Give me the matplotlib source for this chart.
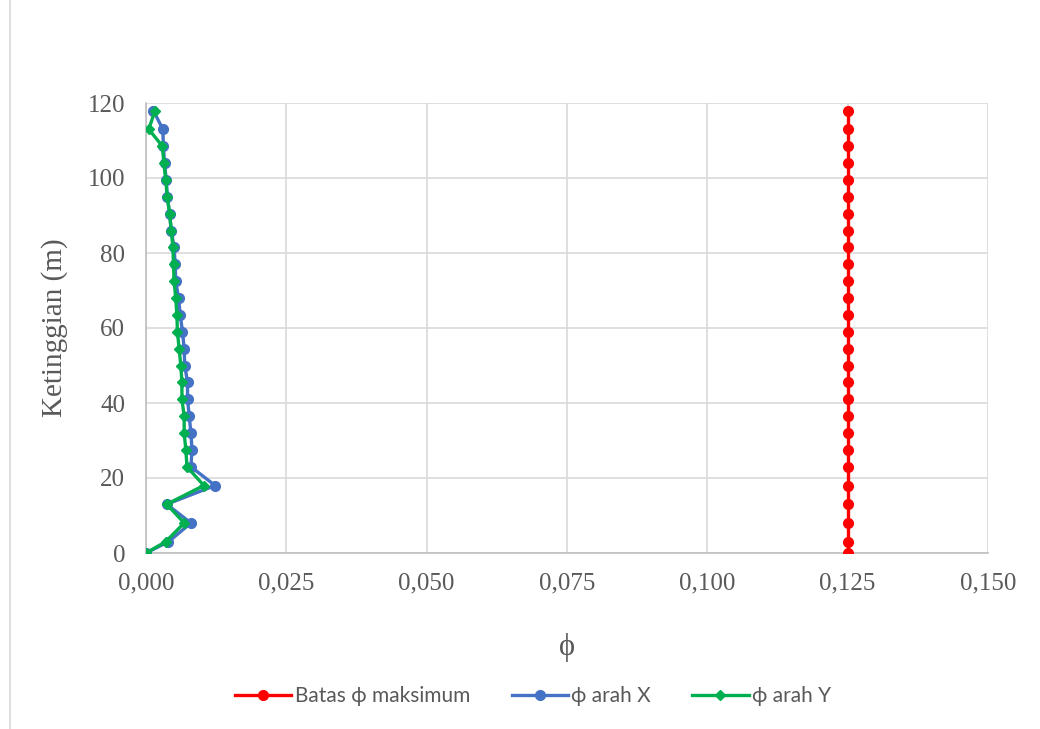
import matplotlib
matplotlib.use("Agg")
import matplotlib.pyplot as plt
from matplotlib.lines import Line2D

# Storey heights (m)
heights = [0, 3, 8, 13, 18, 23, 27.5, 32, 36.5, 41, 45.5, 50, 54.5, 59, 63.5,
           68, 72.5, 77, 81.5, 86, 90.5, 95, 99.5, 104, 108.5, 113, 118]

# Stability coefficient limit
phi_max = [0.125] * len(heights)

# Stability coefficient, X direction
phi_x = [0.0, 0.0040, 0.0080, 0.0037, 0.0123, 0.0080, 0.0082, 0.0080, 0.0077,
         0.0074, 0.0074, 0.0069, 0.0068, 0.0065, 0.0061, 0.0058, 0.0053,
         0.0052, 0.0050, 0.0045, 0.0042, 0.0038, 0.0036, 0.0033, 0.0031,
         0.0030, 0.0013]

# Stability coefficient, Y direction
phi_y = [0.0, 0.0035, 0.0068, 0.0037, 0.0103, 0.0073, 0.0071, 0.0068, 0.0068,
         0.0064, 0.0064, 0.0062, 0.0059, 0.0056, 0.0055, 0.0053, 0.0050,
         0.0049, 0.0048, 0.0045, 0.0042, 0.0038, 0.0035, 0.0032, 0.0029,
         0.0005, 0.0016]

x_ticks = [0.0, 0.025, 0.05, 0.075, 0.1, 0.125, 0.15]
x_tick_labels = ["0,000", "0,025", "0,050", "0,075", "0,100", "0,125", "0,150"]
y_ticks = [0, 20, 40, 60, 80, 100, 120]

series_names = ["Batas ϕ maksimum", "ϕ arah X", "ϕ arah Y"]
series_colors = ["#FF0000", "#4472C4", "#00B050"]

W, H = 1040, 729
fig = plt.figure(figsize=(W / 100, H / 100), dpi=100)
fig.patch.set_facecolor("white")

ax = fig.add_axes([146 / W, 1 - 553 / H, (988 - 146) / W, (553 - 103) / H])

ax.plot(phi_max, heights, color=series_colors[0], lw=2.4, marker="o",
        ms=7, zorder=3)
ax.plot(phi_x, heights, color=series_colors[1], lw=2.4, marker="o",
        ms=7, zorder=3)
ax.plot(phi_y, heights, color=series_colors[2], lw=2.4, marker="D",
        ms=5.5, zorder=4)

ax.set_xlim(0, 0.15)
ax.set_ylim(0, 120)
ax.set_xticks(x_ticks)
ax.set_xticklabels(x_tick_labels)
ax.set_yticks(y_ticks)

grid_c = "#D9D9D9"
ax.grid(True, color=grid_c, lw=1.2, zorder=0)
ax.set_axisbelow(True)
for side in ["top", "right"]:
    ax.spines[side].set_visible(False)
for side in ["left", "bottom"]:
    ax.spines[side].set_color("#BFBFBF")
    ax.spines[side].set_linewidth(1.2)

text_c = "#595959"
serif = ["Liberation Serif", "DejaVu Serif"]
ax.tick_params(length=0, labelsize=18, labelcolor=text_c)
for lab in ax.get_xticklabels() + ax.get_yticklabels():
    lab.set_family(serif)
ax.tick_params(axis="y", pad=15)
ax.tick_params(axis="x", pad=14)

ax.set_ylabel("Ketinggian (m)", fontsize=21, color=text_c, family=serif,
              labelpad=14)
ax.set_xlabel("ϕ", fontsize=22, color=text_c, family=serif, labelpad=28)

handles = [
    Line2D([], [], color=series_colors[0], lw=2.4, marker="o", ms=7),
    Line2D([], [], color=series_colors[1], lw=2.4, marker="o", ms=7),
    Line2D([], [], color=series_colors[2], lw=2.4, marker="D", ms=5.5),
]
leg = fig.legend(handles, series_names, loc="center", ncol=3,
                 bbox_to_anchor=(533 / W, 1 - 696 / H), frameon=False,
                 prop={"family": ["Lato", "DejaVu Sans"], "size": 15},
                 handlelength=2.7, handletextpad=0.15, columnspacing=2.0)
for t in leg.get_texts():
    t.set_color(text_c)

# Chart area border
fig.add_artist(Line2D([10 / W, 10 / W], [0, 1], transform=fig.transFigure,
                      color="#D9D9D9", lw=1.2))

fig.savefig("out.png", dpi=100, facecolor="white")
